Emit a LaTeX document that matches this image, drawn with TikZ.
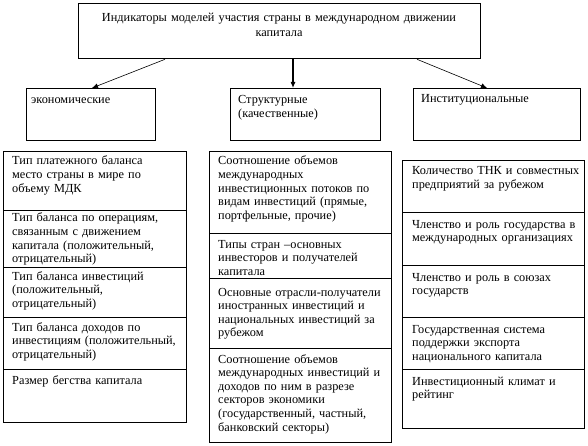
\documentclass[tikz,border=0pt]{standalone}
\usepackage{fontspec}
\setmainfont{Liberation Serif}
\usetikzlibrary{arrows.meta}
\newlength\colw \setlength\colw{164pt}
\newcommand\J[1]{\makebox[\colw][s]{#1}}
\begin{document}
\begin{tikzpicture}[x=1pt,y=-1pt,
  box/.style={draw, line width=0.8pt, inner sep=0pt, anchor=north west},
  topbox/.style={draw, line width=1.3pt, inner sep=0pt, anchor=north west},
  txt/.style={inner sep=0pt, anchor=base west, text width=172pt, align=left,
    font=\fontsize{12.3}{13.6}\selectfont},
  head/.style={inner sep=0pt, anchor=base west, text width=140pt, align=left,
    font=\fontsize{12.3}{14}\selectfont},
  arr/.style={line width=0.6pt, -{Latex[length=6pt,width=5pt]}},
  arrb/.style={line width=1.1pt, -{Latex[length=6pt,width=5pt]}}]
\useasboundingbox (0,0) rectangle (588,446);
% top
\node[topbox, minimum width=402pt, minimum height=55pt] (top) at (78,3) {};
\node[inner sep=0pt, anchor=base, text width=400pt, align=center, font=\fontsize{12.3}{14.5}\selectfont] (toptxt) at (279,22)
  {Индикаторы моделей участия страны в международном движении\\капитала};
% second level
\node[box, minimum width=129pt, minimum height=52pt] (econ) at (26,88) {};
\node[head] (econt) at (31,104) {экономические};
\node[box, minimum width=150pt, minimum height=52pt] (struct) at (230,88) {};
\node[head] (structt) at (238,104) {Структурные\\(качественные)};
\node[box, minimum width=167pt, minimum height=52pt] (inst) at (413,88) {};
\node[head] (instt) at (421,103) {Институциональные};
% arrows
\coordinate (s1) at (165,58); \coordinate (e1) at (92,88);
\coordinate (s2) at (293,58);
\coordinate (s3) at (417,58); \coordinate (e3) at (487,88);
\draw[arr] (top.south -| s1) -- (econ.north -| e1);
\draw[arrb] (top.south -| s2) -- (struct.north -| s2);
\draw[arr] (top.south -| s3) -- (inst.north -| e3);
% left column
\node[box, minimum width=183pt, minimum height=59pt] (l1) at (3,151) {};
\node[box, minimum width=183pt, minimum height=57pt] (l2) at (3,210) {};
\node[box, minimum width=183pt, minimum height=50pt] (l3) at (3,267) {};
\node[box, minimum width=183pt, minimum height=52pt] (l4) at (3,317) {};
\node[box, minimum width=183pt, minimum height=53pt] (l5) at (3,369) {};
\node[txt] (l1t) at (12,165) {Тип платежного баланса\\место страны в мире по\\объему МДК};
\node[txt] (l2t) at (12,222) {Тип баланса по операциям,\\связанным с движением\\капитала (положительный,\\отрицательный)};
\node[txt] (l3t) at (12,280) {Тип баланса инвестиций\\(положительный,\\отрицательный)};
\node[txt] (l4t) at (12,331) {Тип баланса доходов по\\инвестициям (положительный,\\отрицательный)};
\node[txt] (l5t) at (12,384) {Размер бегства капитала};
% middle column
\node[box, minimum width=182pt, minimum height=82pt] (m1) at (209,151) {};
\node[box, minimum width=182pt, minimum height=45pt] (m2) at (209,233) {};
\node[box, minimum width=182pt, minimum height=70pt] (m3) at (209,278) {};
\node[box, minimum width=182pt, minimum height=94pt] (m4) at (209,348) {};
\node[txt] (m1t) at (218,165) {\J{Соотношение объемов}\\международных\\\J{инвестиционных потоков по}\\\J{видам инвестиций (прямые,}\\портфельные, прочие)};
\node[txt] (m2t) at (218,248) {Типы стран –основных\\инвесторов и получателей\\капитала};
\node[txt] (m3t) at (218,296) {\J{Основные отрасли-получатели}\\\J{иностранных инвестиций и}\\\J{национальных инвестиций за}\\рубежом};
\node[txt] (m4t) at (218,363) {\J{Соотношение объемов}\\\J{международных инвестиций и}\\\J{доходов по ним в разрезе}\\\J{секторов экономики}\\\J{(государственный, частный,}\\банковский секторы)};
% right column
\node[box, minimum width=182pt, minimum height=52pt] (r1) at (402,160) {};
\node[box, minimum width=182pt, minimum height=53pt] (r2) at (402,212) {};
\node[box, minimum width=182pt, minimum height=52pt] (r3) at (402,265) {};
\node[box, minimum width=182pt, minimum height=52pt] (r4) at (402,317) {};
\node[box, minimum width=182pt, minimum height=59pt] (r5) at (402,369) {};
\node[txt] (r1t) at (412,175) {Количество ТНК и совместных\\предприятий за рубежом};
\node[txt] (r2t) at (412,228) {\J{Членство и роль государства в}\\международных организациях};
\node[txt] (r3t) at (412,281) {Членство и роль в союзах\\государств};
\node[txt] (r4t) at (412,333) {Государственная система\\поддержки экспорта\\национального капитала};
\node[txt] (r5t) at (412,385) {Инвестиционный климат и\\рейтинг};
\end{tikzpicture}
\end{document}
